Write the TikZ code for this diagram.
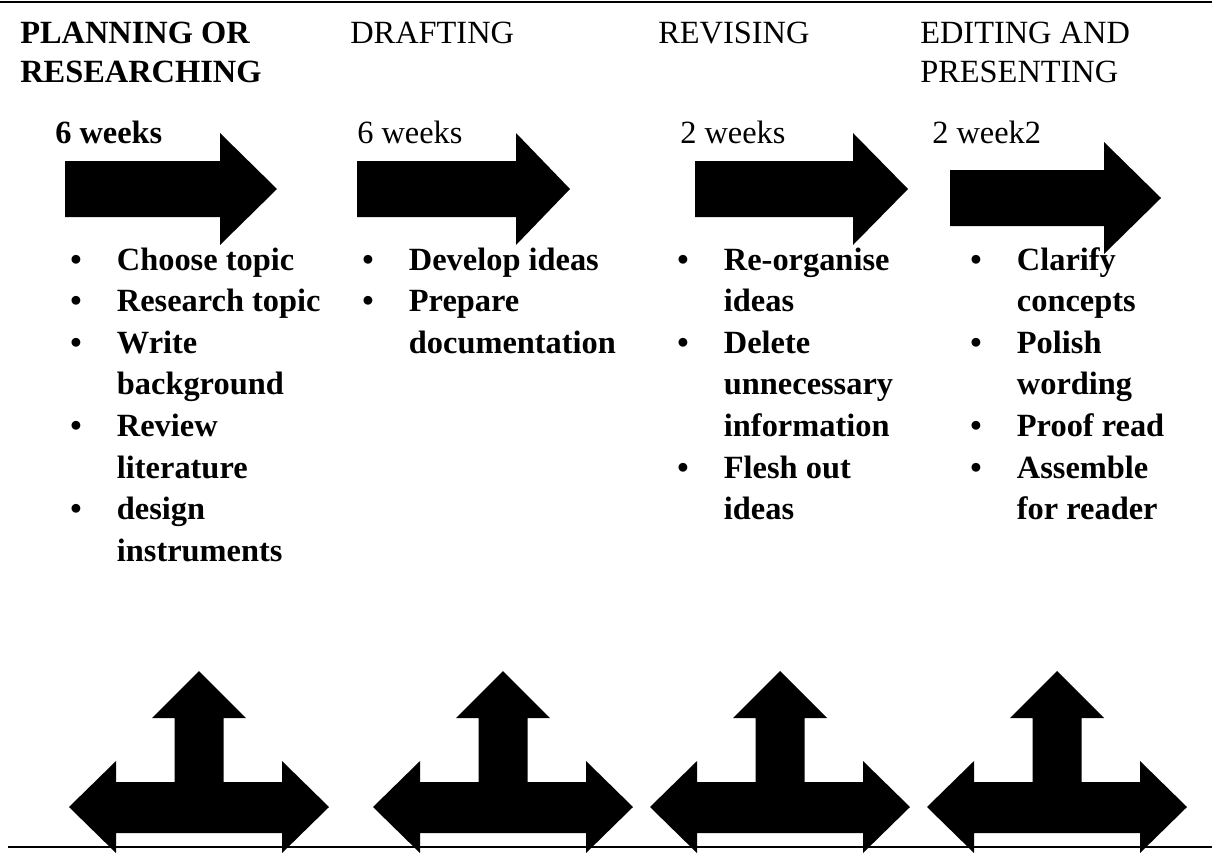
\documentclass[tikz,border=0pt]{standalone}
\usepackage{fontspec}
\setmainfont{Liberation Serif}
\usepackage{array}

\tikzset{
  stage/.style={anchor=base west, inner sep=0pt, font=\fontsize{24.3}{29.25}\selectfont},
  tasks/.style={anchor=base west, inner sep=0pt, font=\fontsize{24.3}{31.2}\selectfont\bfseries},
  blockarrow/.style={fill=black},
  rule/.style={line width=1.5pt}
}
\newcommand{\bul}{\textbullet}

\begin{document}
\begin{tikzpicture}[x=0.75pt,y=-0.75pt]
  \useasboundingbox (0,0) rectangle (1212,853);
  \draw [rule] (0,2) to (1212,2);
  \draw [rule] (8,847) to (1212,847);

  % stage headings
  \node[stage] (h1) at (20,43) {\bfseries\begin{tabular}[t]{@{}l@{}}PLANNING OR\\RESEARCHING\end{tabular}};
  \node[stage] (h2) at (350,43) {DRAFTING};
  \node[stage] (h3) at (658,43) {REVISING};
  \node[stage] (h4) at (920,43) {\begin{tabular}[t]{@{}l@{}}EDITING AND\\PRESENTING\end{tabular}};

  \node[stage] (w1) at (55,143) {\bfseries 6 weeks};
  \node[stage] (w2) at (357,143) {6 weeks};
  \node[stage] (w3) at (680,143) {2 weeks};
  \node[stage] (w4) at (932,143) {2 week2};

  % block arrows
  \foreach \xa/\xb/\xc/\dy in {65/220/277/0,357/516/570/0,695/853/908/0,950/1104/1161/9}
    \fill[blockarrow] (\xa,161+\dy) -- (\xb,161+\dy) -- (\xb,133+\dy) -- (\xc,189+\dy)
      -- (\xb,245+\dy) -- (\xb,217+\dy) -- (\xa,217+\dy) -- cycle;

  % task lists
  \node[tasks] (l1) at (70,270) {\begin{tabular}[t]{@{}p{35pt}@{}l@{}}
    \bul & Choose topic\\ \bul & Research topic\\ \bul & Write\\ & background\\
    \bul & Review\\ & literature\\ \bul & design\\ & instruments\end{tabular}};
  \node[tasks] (l2) at (362,270) {\begin{tabular}[t]{@{}p{35pt}@{}l@{}}
    \bul & Develop ideas\\ \bul & Prepare\\ & documentation\end{tabular}};
  \node[tasks] (l3) at (677,270) {\begin{tabular}[t]{@{}p{35pt}@{}l@{}}
    \bul & Re-organise\\ & ideas\\ \bul & Delete\\ & unnecessary\\ & information\\
    \bul & Flesh out\\ & ideas\end{tabular}};
  \node[tasks] (l4) at (970,270) {\begin{tabular}[t]{@{}p{35pt}@{}l@{}}
    \bul & Clarify\\ & concepts\\ \bul & Polish\\ & wording\\ \bul & Proof read\\
    \bul & Assemble\\ & for reader\end{tabular}};

  % three-way arrows
  \foreach \cx in {199,503,780,1057}
    \fill[blockarrow] (\cx-130,807) -- (\cx-83,761) -- (\cx-83,782) -- (\cx-24.5,782)
      -- (\cx-24.5,718) -- (\cx-47,718) -- (\cx,671) -- (\cx+47,718) -- (\cx+24.5,718)
      -- (\cx+24.5,782) -- (\cx+83,782) -- (\cx+83,761) -- (\cx+130,807) -- (\cx+83,853)
      -- (\cx+83,833) -- (\cx-83,833) -- (\cx-83,853) -- cycle;
\end{tikzpicture}
\end{document}
